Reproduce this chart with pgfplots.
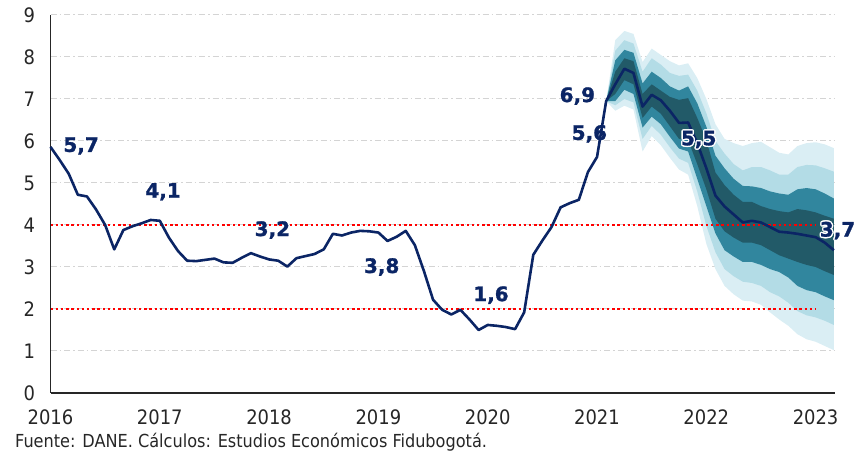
\documentclass[border=0pt]{standalone}
\usepackage{fontspec}
\setmainfont{DejaVu Sans Condensed}
\newfontfamily\lblfont{DejaVu Sans Bold}[FakeBold=1.2]
\usepackage{pgfplots}
\pgfplotsset{compat=1.18}
\usepackage{pgfplotstable}
\usepgfplotslibrary{fillbetween}
\usepackage{contour}
\contourlength{1.4bp}
\contournumber{10}
\definecolor{navy}{HTML}{0B2565}
\definecolor{fan4}{HTML}{DAEEF4}
\definecolor{fan3}{HTML}{B3DCE6}
\definecolor{fan2}{HTML}{31869E}
\definecolor{fan1}{HTML}{225A68}
\definecolor{gridc}{HTML}{D4D4D4}

% month index from Jan 2016
\pgfplotstableread{
m v
0 5.86
1 5.55
2 5.22
3 4.72
4 4.68
5 4.37
6 4.00
7 3.42
8 3.88
9 3.97
10 4.04
11 4.12
12 4.10
13 3.70
14 3.38
15 3.15
16 3.14
17 3.17
18 3.20
19 3.11
20 3.10
21 3.22
22 3.33
23 3.25
24 3.18
25 3.15
26 3.01
27 3.21
28 3.26
29 3.31
30 3.42
31 3.79
32 3.75
33 3.82
34 3.86
35 3.85
36 3.82
37 3.62
38 3.72
39 3.86
40 3.52
41 2.90
42 2.22
43 1.98
44 1.87
45 1.98
46 1.75
47 1.50
48 1.62
49 1.60
50 1.57
51 1.52
52 1.92
53 3.29
54 3.63
55 3.95
56 4.42
57 4.52
58 4.60
59 5.26
60 5.62
61 6.95
62 7.35
63 7.72
64 7.62
65 6.82
66 7.10
67 6.97
68 6.72
69 6.43
70 6.44
71 5.95
72 5.35
73 4.70
74 4.44
75 4.25
76 4.06
77 4.10
78 4.06
79 3.95
80 3.84
81 3.82
82 3.79
83 3.75
84 3.71
85 3.58
86 3.40
}\infl

\pgfplotstableread{
m lo4 lo3 lo2 lo1 hi1 hi2 hi3 hi4
61 6.95 6.95 6.95 6.95 6.95 6.95 6.95 6.95
62 6.72 6.85 6.95 7.12 7.65 7.92 8.15 8.40
63 6.84 7.00 7.22 7.45 7.97 8.17 8.40 8.62
64 6.75 6.92 7.12 7.35 7.90 8.10 8.32 8.55
65 5.75 6.05 6.32 6.55 7.12 7.37 7.65 7.88
66 6.12 6.36 6.58 6.82 7.35 7.65 7.97 8.20
67 5.90 6.15 6.40 6.65 7.20 7.50 7.82 8.05
68 5.60 5.85 6.10 6.35 7.05 7.30 7.62 7.90
69 5.32 5.58 5.82 6.05 6.98 7.20 7.55 7.80
70 5.20 5.48 5.75 6.02 7.02 7.30 7.58 7.85
71 4.45 4.80 5.10 5.45 6.55 6.90 7.20 7.50
72 3.55 3.98 4.45 4.85 6.02 6.34 6.66 7.00
73 2.95 3.35 3.80 4.15 5.25 5.65 6.00 6.40
74 2.55 2.95 3.40 3.85 4.95 5.35 5.70 6.05
75 2.35 2.78 3.25 3.70 4.72 5.10 5.45 5.95
76 2.20 2.65 3.12 3.58 4.55 4.93 5.30 5.88
77 2.18 2.62 3.12 3.58 4.55 4.92 5.38 5.95
78 2.10 2.55 3.05 3.52 4.45 4.88 5.38 5.98
79 1.92 2.40 2.95 3.40 4.38 4.80 5.30 5.85
80 1.75 2.30 2.88 3.28 4.33 4.75 5.20 5.72
81 1.60 2.15 2.75 3.20 4.30 4.72 5.20 5.68
82 1.40 1.95 2.55 3.12 4.38 4.85 5.38 5.88
83 1.28 1.85 2.45 3.05 4.35 4.88 5.43 5.95
84 1.22 1.80 2.40 3.00 4.30 4.85 5.42 5.97
85 1.12 1.72 2.30 2.90 4.22 4.75 5.35 5.92
86 1.02 1.62 2.21 2.81 4.15 4.63 5.27 5.83
}\fan

\begin{document}
\begin{tikzpicture}
\begin{axis}[
  at={(50.5bp,64bp)}, anchor=south west,
  scale only axis, width=784.5bp, height=378bp,
  xmin=2016, xmax=2023.177, ymin=0, ymax=9,
  axis x line=bottom, axis y line=left,
  axis line style={-, line width=1.6bp, black!85},
  xtick={2016,2017,...,2023}, ytick={0,1,...,9},
  major tick length=0pt,
  /pgf/number format/1000 sep={},
  /pgf/number format/assume math mode=true,
  tick label style={font=\fontsize{20}{24}\selectfont, text=black!85},
  xticklabel style={yshift=-13bp},
  yticklabel style={xshift=-12bp},
  ymajorgrids,
  grid style={gridc, line width=1bp, dash pattern=on 6bp off 3bp on 1.5bp off 3bp},
  clip=false,
]
% fan
\addplot[draw=none, name path=h4] table[x expr=2016+\thisrow{m}/12, y=hi4]{\fan};
\addplot[draw=none, name path=l4] table[x expr=2016+\thisrow{m}/12, y=lo4]{\fan};
\addplot[draw=none, name path=h3] table[x expr=2016+\thisrow{m}/12, y=hi3]{\fan};
\addplot[draw=none, name path=l3] table[x expr=2016+\thisrow{m}/12, y=lo3]{\fan};
\addplot[draw=none, name path=h2] table[x expr=2016+\thisrow{m}/12, y=hi2]{\fan};
\addplot[draw=none, name path=l2] table[x expr=2016+\thisrow{m}/12, y=lo2]{\fan};
\addplot[draw=none, name path=h1] table[x expr=2016+\thisrow{m}/12, y=hi1]{\fan};
\addplot[draw=none, name path=l1] table[x expr=2016+\thisrow{m}/12, y=lo1]{\fan};
\addplot[fill=fan4, draw=none] fill between[of=h4 and l4];
\addplot[fill=fan3, draw=none] fill between[of=h3 and l3];
\addplot[fill=fan2, draw=none] fill between[of=h2 and l2];
\addplot[fill=fan1, draw=none] fill between[of=h1 and l1];
% target range
\addplot[red, line width=2.5bp, dash pattern=on 2.5bp off 2.7bp] coordinates {(2016,4) (2023,4)};
\addplot[red, line width=2.5bp, dash pattern=on 2.5bp off 2.7bp] coordinates {(2016,2) (2023,2)};
% series
\addplot[navy, line width=2.6bp, line join=round] table[x expr=2016+\thisrow{m}/12, y=v]{\infl};
% labels
\begin{scope}[every node/.style={font=\lblfont\fontsize{20}{24}\selectfont, text=navy, inner sep=0pt}]
\node at (axis cs:2016.28,5.88) {5,7};
\node at (axis cs:2017.03,4.79) {4,1};
\node at (axis cs:2018.03,3.88) {3,2};
\node at (axis cs:2019.03,3.00) {3,8};
\node at (axis cs:2020.03,2.33) {1,6};
\node at (axis cs:2020.82,7.07) {6,9};
\node at (axis cs:2020.93,6.17) {5,6};
\node at (axis cs:2021.93,6.02) {\contour{white}{5,5}};
\node at (axis cs:2023.20,3.85) {\contour{white}{3,7}};
\end{scope}
\end{axis}
\node[anchor=base west, inner sep=0pt, font=\fontsize{18}{21}\selectfont, text=black!85] at (15bp,10bp) {Fuente: DANE. Cálculos: Estudios Económicos Fidubogotá.};
\pgfresetboundingbox
\path[use as bounding box] (0,0) rectangle (857bp,457bp);
\end{tikzpicture}
\end{document}
